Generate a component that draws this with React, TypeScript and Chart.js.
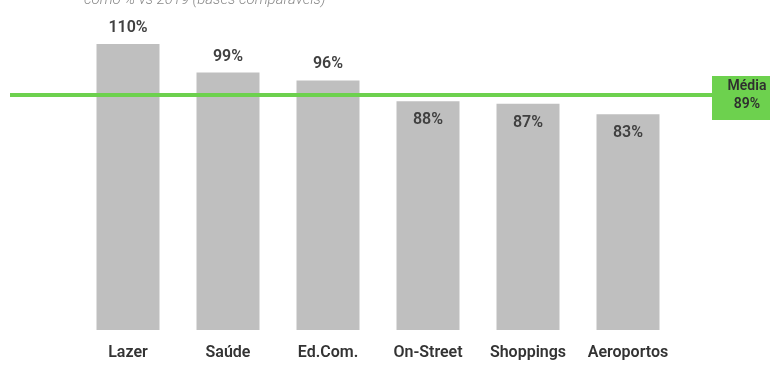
import React, { useEffect, useRef } from "react";
import { Chart, registerables } from "chart.js";

Chart.register(...registerables);

const categories = ["Lazer", "Saúde", "Ed.Com.", "On-Street", "Shoppings", "Aeroportos"];
const values = [110, 99, 96, 88, 87, 83];
const labelInside = [false, false, false, true, true, true];
const averageValue = 89;
const averageLabel = "Média";
const subtitle = "como % vs 2019 (bases comparáveis)";

const GREEN = "#6dd14e";
const BAR = "#bfbfbf";
const FONT = "Roboto, 'DejaVu Sans', sans-serif";

const overlayPlugin = {
  id: "overlay",
  afterDatasetsDraw(chart: any) {
    const ctx = chart.ctx;
    const y = chart.scales.y;
    const meta = chart.getDatasetMeta(0);
    ctx.save();
    // value labels
    ctx.font = `600 16px ${FONT}`;
    ctx.fillStyle = "#404040";
    ctx.textAlign = "center";
    ctx.textBaseline = "middle";
    meta.data.forEach((bar: any, i: number) => {
      const ty = labelInside[i] ? bar.y + 19 : bar.y - 16;
      ctx.fillText(values[i] + "%", bar.x, ty);
    });
    // average line
    const ly = Math.round(y.getPixelForValue(averageValue)) - 4;
    ctx.strokeStyle = GREEN;
    ctx.lineWidth = 4;
    ctx.beginPath();
    ctx.moveTo(10, ly);
    ctx.lineTo(714, ly);
    ctx.stroke();
    // average box
    ctx.fillStyle = GREEN;
    ctx.fillRect(712, ly - 19, 60, 44);
    ctx.fillStyle = "#2f2f2f";
    ctx.font = `600 14px ${FONT}`;
    ctx.fillText(averageLabel, 747, ly - 9);
    ctx.fillText(averageValue + "%", 747, ly + 9);
    // subtitle (cut at top)
    ctx.font = `italic 300 15px ${FONT}`;
    ctx.fillStyle = "#8a8a8a";
    ctx.textAlign = "left";
    ctx.textBaseline = "alphabetic";
    ctx.fillText(subtitle, 84, 4);
    ctx.restore();
  },
};

export default function App() {
  const ref = useRef<HTMLCanvasElement>(null);
  useEffect(() => {
    document.body.style.margin = "0";
    const chart = new Chart(ref.current!, {
      type: "bar",
      data: {
        labels: categories,
        datasets: [
          {
            data: values,
            backgroundColor: BAR,
            categoryPercentage: 1,
            barPercentage: 0.63,
          },
        ],
      },
      options: {
        animation: false,
        responsive: false,
        maintainAspectRatio: false,
        layout: { padding: { left: 78, right: 92, top: 18, bottom: 0 } },
        plugins: { legend: { display: false }, tooltip: { enabled: false } },
        scales: {
          x: {
            grid: { display: false, drawTicks: false },
            border: { display: false },
            ticks: {
              color: "#333",
              font: { family: FONT, size: 16, weight: "600" as any },
              padding: 13,
              maxRotation: 0,
            },
            afterFit(scale: any) {
              scale.height = 35;
            },
          },
          y: {
            display: false,
            min: 0,
            max: 120,
          },
        },
      },
      plugins: [overlayPlugin],
    });
    return () => chart.destroy();
  }, []);
  return (
    <div style={{ position: "fixed", left: 0, top: 0, width: 770, height: 365, background: "#fff" }}>
      <canvas ref={ref} width={770} height={365} />
    </div>
  );
}
